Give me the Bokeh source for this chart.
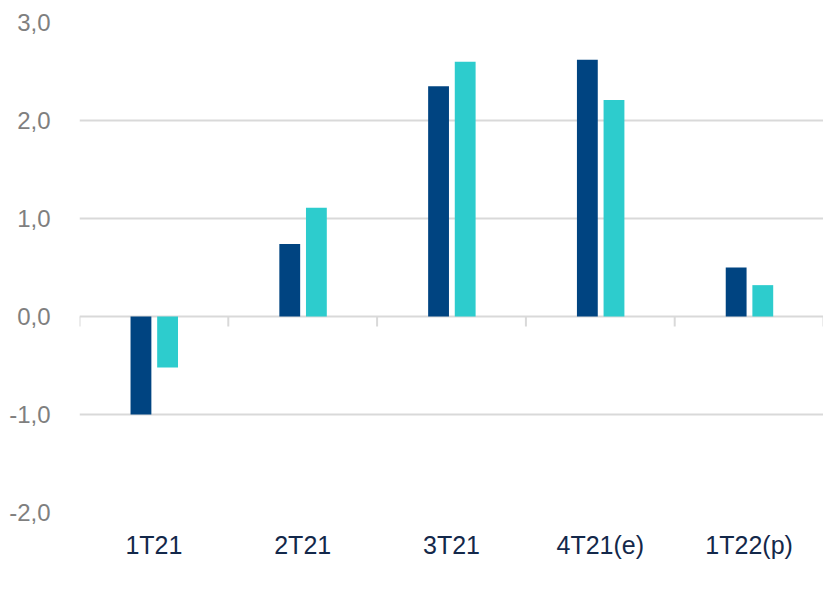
import math
from bokeh.plotting import figure
from bokeh.models import (ColumnDataSource, FactorRange, Range1d, FixedTicker,
                          CustomJSTickFormatter, Legend, LegendItem)
from bokeh.transform import dodge
from bokeh.embed import file_html
from bokeh.resources import INLINE

categories = ["1T21", "2T21", "3T21", "4T21(e)", "1T22(p)"]
murcia = [-1.0, 0.74, 2.35, 2.62, 0.50]
espana = [-0.52, 1.11, 2.60, 2.21, 0.32]
y_ticks = [-2, -1, 0, 1, 2, 3]

C_MUR = "#004481"
C_ESP = "#2dcccd"
GRID = "#d9d9d9"
FONT = "Liberation Sans"

src = ColumnDataSource(dict(cat=categories, murcia=murcia, espana=espana,
                            zero=[0] * len(categories)))
last = ColumnDataSource(dict(cat=categories[-1:], zero=[0]))

p = figure(x_range=FactorRange(*categories), y_range=Range1d(-2, 3),
           frame_width=744, frame_height=490, output_backend="svg", toolbar_location=None,
           min_border_left=79, min_border_right=0, min_border_top=22, min_border_bottom=93)
p.outline_line_color = None
p.background_fill_color = "white"

# y axis
p.yaxis.ticker = FixedTicker(ticks=y_ticks)
p.yaxis.formatter = CustomJSTickFormatter(code="return tick.toFixed(1).replace('.', ',');")
p.yaxis.axis_line_color = None
p.yaxis.major_tick_line_color = None
p.yaxis.minor_tick_line_color = None
p.yaxis.major_label_text_font = FONT
p.yaxis.major_label_text_font_size = "24px"
p.yaxis.major_label_text_color = "#7f7f7f"
p.yaxis.major_label_standoff = 23

p.ygrid.ticker = FixedTicker(ticks=y_ticks)
p.ygrid.grid_line_color = GRID
p.ygrid.grid_line_width = 2
p.xgrid.grid_line_color = None

# x axis (labels only)
p.xaxis.axis_line_color = None
p.xaxis.major_tick_line_color = None
p.xaxis.minor_tick_line_color = None
p.xaxis.major_label_text_font = FONT
p.xaxis.major_label_text_font_size = "25px"
p.xaxis.major_label_text_color = "#13284a"
p.xaxis.major_label_standoff = 12

# category boundary ticks hanging from the zero line
p.ray(x=dodge("cat", -0.5, range=p.x_range), y="zero", length=10, length_units="screen",
      angle=-math.pi / 2, source=src, line_color=GRID, line_width=2)
p.ray(x=dodge("cat", 0.5, range=p.x_range), y="zero", length=10, length_units="screen",
      angle=-math.pi / 2, source=last, line_color=GRID, line_width=2)

r1 = p.vbar(x=dodge("cat", -0.087, range=p.x_range), top="murcia", bottom=0, width=0.14,
            source=src, fill_color=C_MUR, line_color=None)
r2 = p.vbar(x=dodge("cat", 0.092, range=p.x_range), top="espana", bottom=0, width=0.14,
            source=src, fill_color=C_ESP, line_color=None)

legend = Legend(items=[LegendItem(label="Murcia", renderers=[r1]),
                       LegendItem(label="España", renderers=[r2])],
                orientation="horizontal", location=(33, 0),
                label_text_font=FONT, label_text_font_size="26px", label_text_color="#13284a",
                glyph_width=13, glyph_height=13, label_standoff=6, spacing=62,
                border_line_color=None, background_fill_alpha=0,
                padding=0, margin=0)
p.add_layout(legend, "below")

open("out.html", "w").write(file_html(p, INLINE))
